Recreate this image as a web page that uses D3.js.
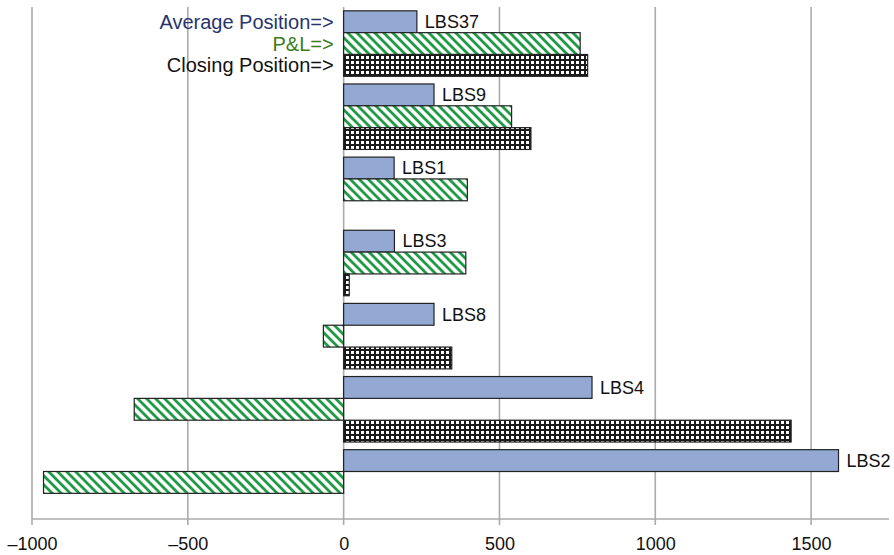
<!DOCTYPE html>
<html>
<head>
<meta charset="utf-8">
<script src="https://cdn.jsdelivr.net/npm/d3@7"></script>
<style>
  html, body { margin: 0; padding: 0; background: #fff; }
  svg { display: block; font-family: "Liberation Sans", Arial, Helvetica, sans-serif; }
</style>
</head>
<body>
<svg id="chart" width="894" height="555"></svg>
<script>
// Position data per book
const categories = ["LBS37", "LBS9", "LBS1", "LBS3", "LBS8", "LBS4", "LBS2"];
const averagePosition = [235, 290, 162, 163, 290, 797, 1588];
const profitLoss = [759, 539, 397, 392, -65, -672, -963];
const closingPosition = [783, 601, null, 18, 347, 1436, null];
const seriesNames = ["Average Position=>", "P&L=>", "Closing Position=>"];
const xTicks = [-1000, -500, 0, 500, 1000, 1500];
const xTickLabels = ["\u20131000", "\u2013500", "0", "500", "1000", "1500"];

const series = [
  { key: "avg", name: seriesNames[0], values: averagePosition, fill: "#93a9d3", text: "#27346e" },
  { key: "pnl", name: seriesNames[1], values: profitLoss, fill: "url(#hatch)", text: "#3c7c19" },
  { key: "close", name: seriesNames[2], values: closingPosition, fill: "url(#grid)", text: "#111" }
];

const svg = d3.select("#chart");
const defs = svg.append("defs");

// diagonal green hatch
const hatch = defs.append("pattern")
  .attr("id", "hatch").attr("patternUnits", "userSpaceOnUse")
  .attr("width", 9).attr("height", 9);
hatch.append("rect").attr("width", 9).attr("height", 9).attr("fill", "#fff");
hatch.append("path")
  .attr("d", "M0,0L9,9M-1,8L1,10M8,-1L10,1")
  .attr("stroke", "#1f9a45").attr("stroke-width", 2.8);

// fine black check
const grid = defs.append("pattern")
  .attr("id", "grid").attr("patternUnits", "userSpaceOnUse")
  .attr("width", 5).attr("height", 5);
grid.append("rect").attr("width", 5).attr("height", 5).attr("fill", "#1a1a1a");
grid.append("rect").attr("x", 1).attr("y", 1).attr("width", 3).attr("height", 3).attr("fill", "#fff");

const plotTop = 7, plotBottom = 519;
const x = d3.scaleLinear().domain([-1000, 1750]).range([32, 889]);
const y = d3.scaleBand().domain(categories).range([plotTop, plotBottom])
  .paddingInner(0.1045).paddingOuter(0.0523);
const ySub = d3.scaleBand().domain(series.map(s => s.key)).range([0, y.bandwidth()]);

// gridlines
svg.append("g").selectAll("line").data(xTicks.filter(t => t !== 0)).join("line")
  .attr("x1", d => x(d)).attr("x2", d => x(d))
  .attr("y1", plotTop).attr("y2", plotBottom + 6)
  .attr("stroke", "#ababab").attr("stroke-width", 1.6);

// vertical axis at zero
svg.append("line")
  .attr("x1", x(0)).attr("x2", x(0))
  .attr("y1", plotTop).attr("y2", plotBottom + 6)
  .attr("stroke", "#ababab").attr("stroke-width", 1.6);

// horizontal axis
const xAxis = d3.axisBottom(x).tickValues(xTicks).tickSize(0)
  .tickFormat((d, i) => xTickLabels[i]);
const axisG = svg.append("g").attr("transform", `translate(0,${plotBottom})`).call(xAxis);
axisG.select(".domain").attr("stroke", "#ababab").attr("stroke-width", 1.6)
  .attr("d", `M${x(-1000)},0H${x(1750)}`);
axisG.selectAll(".tick text")
  .attr("y", 31).attr("dy", 0)
  .attr("font-size", 18).attr("fill", "#111")
  .attr("font-family", "Liberation Sans, Arial, sans-serif");

// bars
const barsG = svg.append("g");
series.forEach(s => {
  const rows = categories.map((c, i) => ({ c, v: s.values[i] })).filter(d => d.v !== null);
  barsG.append("g").selectAll("rect").data(rows).join("rect")
    .attr("x", d => x(Math.min(0, d.v)))
    .attr("width", d => Math.abs(x(d.v) - x(0)))
    .attr("y", d => y(d.c) + ySub(s.key))
    .attr("height", ySub.bandwidth())
    .attr("fill", s.fill)
    .attr("stroke", "#222").attr("stroke-width", 1.2);
});

// book labels next to average-position bars
svg.append("g").selectAll("text").data(categories).join("text")
  .attr("x", (c, i) => x(averagePosition[i]) + 8)
  .attr("y", c => y(c) + ySub("avg") + ySub.bandwidth() / 2)
  .attr("dy", "0.35em")
  .attr("font-size", 18).attr("fill", "#111")
  .text(c => c);

// series captions beside the first group
svg.append("g").selectAll("text").data(series).join("text")
  .attr("x", x(0) - 10)
  .attr("y", s => y(categories[0]) + ySub(s.key) + ySub.bandwidth() / 2)
  .attr("dy", "0.35em")
  .attr("text-anchor", "end")
  .attr("font-size", 20)
  .attr("fill", s => s.text)
  .text(s => s.name);
</script>
</body>
</html>
